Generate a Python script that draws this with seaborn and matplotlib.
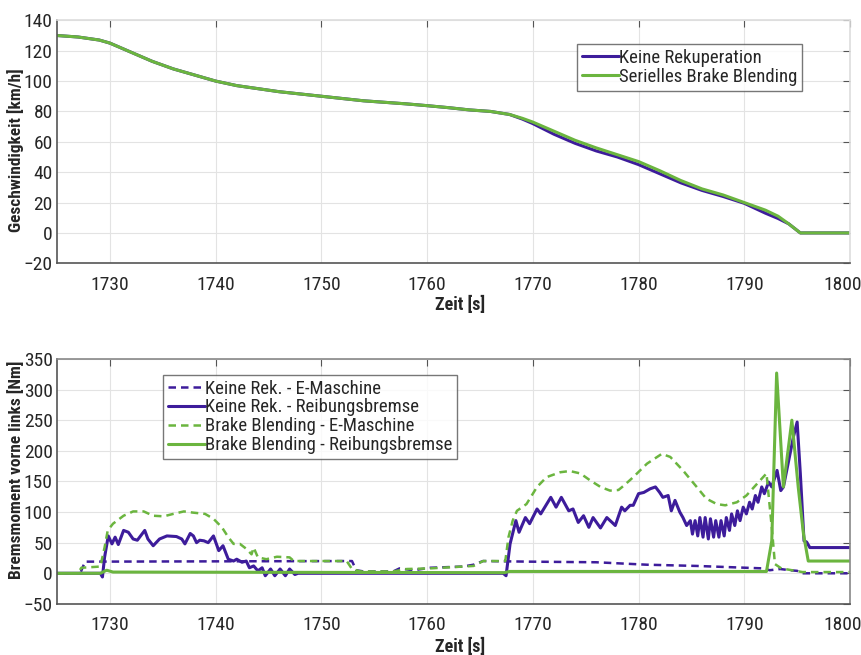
import numpy as np
import pandas as pd
import matplotlib
matplotlib.use("Agg")
import matplotlib.pyplot as plt
import matplotlib.transforms as mtransforms
import seaborn as sns

# --- top chart: speed ---
t_speed = [1725, 1727, 1729, 1730, 1732, 1734, 1736, 1738, 1740, 1742, 1744, 1746, 1748, 1750,
           1752, 1754, 1756, 1758, 1760, 1762, 1764, 1766, 1767.8, 1769, 1770, 1772, 1774, 1776,
           1778, 1780, 1782, 1784, 1786, 1788, 1790, 1792, 1793.2, 1794.2, 1795.3, 1800]
v_keine = [130, 129, 127, 125, 119, 113, 108, 104, 100, 97, 95, 93, 91.5, 90,
           88.5, 87, 86, 85, 83.8, 82.5, 81, 80, 78, 75, 72, 65, 59, 54,
           50, 45, 39, 33, 28, 24, 19.5, 13, 9.5, 6, 0, 0]
v_blend = [130, 129, 127, 125, 119, 113, 108, 104, 100, 97, 95, 93, 91.5, 90,
           88.5, 87, 86, 85, 83.8, 82.5, 81, 80, 78, 75.5, 73, 67, 61, 56,
           51.5, 47, 41, 34.5, 29, 25, 20, 15, 11, 6, 0, 0]

# --- bottom chart: brake torque ---
t_kr_em = [1725, 1727.2, 1727.65, 1752.9, 1753.3, 1754, 1756.8, 1757.4, 1758.7, 1760.3, 1763.4,
           1764.4, 1765.3, 1769.7, 1776, 1780.8, 1785.5, 1790.2, 1791.8, 1792.4, 1793.4, 1794.3,
           1795.0, 1795.4, 1800]
m_kr_em = [0, 0, 19, 20, 5, 3, 3, 8, 5, 9, 11,
           14, 20, 19, 18, 14, 12, 9, 8, 5, 7, 5,
           4, 0, 0]

t_kr_rb = [1725, 1729.1, 1729.3, 1729.5, 1729.85, 1730.2, 1730.5, 1730.8, 1731.3, 1731.75,
           1732.2, 1732.6, 1733.3, 1733.6, 1734.1, 1734.7, 1735.4, 1736.3, 1736.8, 1737.1,
           1737.6, 1737.9, 1738.2, 1738.5, 1738.9, 1739.3, 1739.8, 1740.3, 1740.7, 1741.2,
           1741.7, 1742.0, 1742.5, 1742.9, 1743.2, 1743.6, 1744.0, 1744.4, 1744.7, 1745.2,
           1745.6, 1746.1, 1746.6, 1747.0, 1747.5, 1747.8, 1767.2, 1767.47, 1767.85, 1768.4,
           1768.7, 1769.3, 1769.7, 1770.4, 1770.75, 1771.7, 1772.2, 1772.7, 1773.4, 1773.8,
           1774.3, 1774.8, 1775.3, 1775.7, 1776.4, 1777.0, 1777.5, 1777.8, 1778.4, 1778.7,
           1779.2, 1779.5, 1780.0, 1780.5, 1781.1, 1781.6, 1782.0, 1782.3, 1782.8, 1783.1,
           1783.45, 1783.9, 1784.2, 1784.55, 1784.9, 1785.1, 1785.35, 1785.6, 1785.8, 1786.1,
           1786.3, 1786.6, 1786.8, 1787.1, 1787.3, 1787.6, 1787.8, 1788.1, 1788.3, 1788.6,
           1788.8, 1789.1, 1789.35, 1789.6, 1789.9, 1790.2, 1790.5, 1790.75, 1791.05, 1791.3,
           1791.65, 1791.9, 1792.3, 1792.6, 1793.1, 1793.45, 1793.7, 1794.2, 1794.65, 1795.0,
           1795.3, 1795.65, 1795.9, 1796.2, 1800]
m_kr_rb = [0, 0, -6, 26, 61, 48, 59, 47, 70, 67,
           56, 54, 70, 56, 45, 56, 61, 60, 56, 48,
           65, 61, 50, 54, 53, 50, 61, 37, 45, 23,
           20, 23, 18, 20, 9, 12, 4, 9, -4, 7,
           -4, 7, -4, 7, -2, 0, 0, -4, 48, 86,
           67, 91, 81, 105, 97, 124, 108, 124, 102, 105,
           83, 94, 75, 91, 74, 91, 83, 78, 108, 102,
           111, 111, 130, 132, 138, 141, 132, 124, 127, 102,
           119, 100, 91, 78, 86, 64, 86, 61, 91, 59,
           91, 56, 89, 59, 86, 59, 86, 61, 91, 70,
           97, 78, 102, 86, 108, 97, 116, 105, 127, 116,
           141, 130, 149, 141, 168, 135, 141, 184, 223, 247,
           163, 53, 51, 42, 42]

t_bb_em = [1725, 1727.0, 1727.3, 1729.1, 1729.5, 1729.8, 1730.3, 1731.3, 1732.2, 1733.2,
           1734.1, 1735.1, 1736.0, 1737.0, 1737.9, 1739.0, 1739.8, 1740.6, 1741.2, 1741.7,
           1742.3, 1742.9, 1743.4, 1743.6, 1744.0, 1744.8, 1745.8, 1747.0, 1747.4, 1752.4,
           1752.9, 1753.7, 1756.8, 1758.1, 1760.3, 1763.4, 1764.4, 1765.3, 1767.4, 1767.7,
           1768.1, 1768.5, 1769.4, 1770.4, 1771.3, 1772.6, 1773.5, 1774.5, 1775.4, 1776.4,
           1777.3, 1778.1, 1778.6, 1779.5, 1780.8, 1782.2, 1783.0, 1784.2, 1785.5, 1786.4,
           1787.4, 1788.2, 1789.3, 1790.2, 1791.2, 1792.1, 1792.6, 1792.9, 1793.5, 1794.5,
           1795.5, 1800]
m_bb_em = [0, 0, 9, 11, 42, 70, 81, 94, 101, 101,
           94, 93, 97, 101, 99, 97, 89, 75, 59, 48,
           48, 40, 31, 42, 26, 23, 27, 26, 20, 20,
           7, 3, 3, 7, 8, 11, 12, 20, 20, 59,
           86, 102, 113, 141, 157, 165, 167, 163, 152, 141,
           135, 136, 143, 157, 179, 195, 190, 168, 141, 122,
           113, 111, 116, 127, 146, 163, 75, 15, 8, 5,
           2, 2]

t_bb_rb = [1725, 1729.1, 1729.7, 1730.3, 1767.3, 1767.8, 1792.1, 1792.6, 1793.06, 1793.7,
           1794.5, 1795.1, 1795.6, 1796.05, 1800]
m_bb_rb = [0, 0, 5, 2, 1, 3, 3, 53, 327, 141,
           250, 141, 64, 20, 20]

purple = "#3d1c9b"
green = "#6bb53f"

sns.set_style("whitegrid", {"grid.color": "#e3e3e3", "axes.edgecolor": "#555555"})
plt.rcParams["font.family"] = ["Roboto Condensed", "Archivo Narrow", "PT Sans Narrow",
                               "Barlow Condensed", "Liberation Sans Narrow", "DejaVu Sans"]

fig = plt.figure(figsize=(8.62, 6.55), dpi=100)
ax1 = fig.add_axes([0.0661, 0.598, 0.92, 0.371])
ax2 = fig.add_axes([0.0661, 0.078, 0.92, 0.374])

sns.lineplot(x=t_speed, y=v_keine, ax=ax1, color=purple, lw=2.2, label="Keine Rekuperation")
sns.lineplot(x=t_speed, y=v_blend, ax=ax1, color=green, lw=2.2, label="Serielles Brake Blending")

sns.lineplot(x=t_kr_em, y=m_kr_em, ax=ax2, color=purple, lw=1.8, linestyle=(0, (3, 2)),
             label="Keine Rek. - E-Maschine")
sns.lineplot(x=t_kr_rb, y=m_kr_rb, ax=ax2, color=purple, lw=2.2,
             label="Keine Rek. - Reibungsbremse")
sns.lineplot(x=t_bb_em, y=m_bb_em, ax=ax2, color=green, lw=1.8, linestyle=(0, (3, 2)),
             label="Brake Blending - E-Maschine")
sns.lineplot(x=t_bb_rb, y=m_bb_rb, ax=ax2, color=green, lw=2.2,
             label="Brake Blending - Reibungsbremse")

ax1.set_ylim(-20, 140)
ax1.set_yticks(range(-20, 141, 20))
ax2.set_ylim(-50, 350)
ax2.set_yticks(range(-50, 351, 50))

shift = mtransforms.ScaledTranslation(-7 / 100, 0, fig.dpi_scale_trans)
for ax in (ax1, ax2):
    ax.set_xlim(1725, 1800)
    ax.set_xticks([1730, 1740, 1750, 1760, 1770, 1780, 1790, 1800])
    ax.tick_params(axis="both", labelsize=14, direction="in", length=5,
                   color="#555555", top=True, right=True, pad=3)
    ax.tick_params(axis="x", pad=9)
    ax.set_xlabel("Zeit [s]", fontsize=13, fontweight="bold", loc="left", labelpad=0)
    for s in ax.spines.values():
        s.set_linewidth(1.2)
    last = ax.get_xticklabels()[-1]
    last.set_transform(last.get_transform() + shift)

ax1.spines["top"].set_color("#dddddd")
ax1.spines["right"].set_color("#dddddd")
ax2.spines["top"].set_color("#888888")
ax2.spines["right"].set_color("#888888")

ax1.set_ylabel("Geschwindigkeit [km/h]", fontsize=12.5, fontweight="bold")
ax2.set_ylabel("Bremsmoment vorne links [Nm]", fontsize=12.5, fontweight="bold")
ax1.yaxis.set_label_coords(-0.042, 0.465)
ax2.yaxis.set_label_coords(-0.042, 0.547)
ax1.xaxis.set_label_coords(0.477, -0.136)
ax2.xaxis.set_label_coords(0.477, -0.138)

leg_kw = dict(fontsize=13.5, frameon=True, fancybox=False, edgecolor="#555555",
              handlelength=2.0, handletextpad=0.0, borderpad=0.25, labelspacing=0.05,
              borderaxespad=0)
ax1.legend(loc="upper left", bbox_to_anchor=(0.656, 0.901), **leg_kw)
ax2.legend(loc="upper left", bbox_to_anchor=(0.134, 0.935), **leg_kw)

fig.savefig("out.png", dpi=100)
